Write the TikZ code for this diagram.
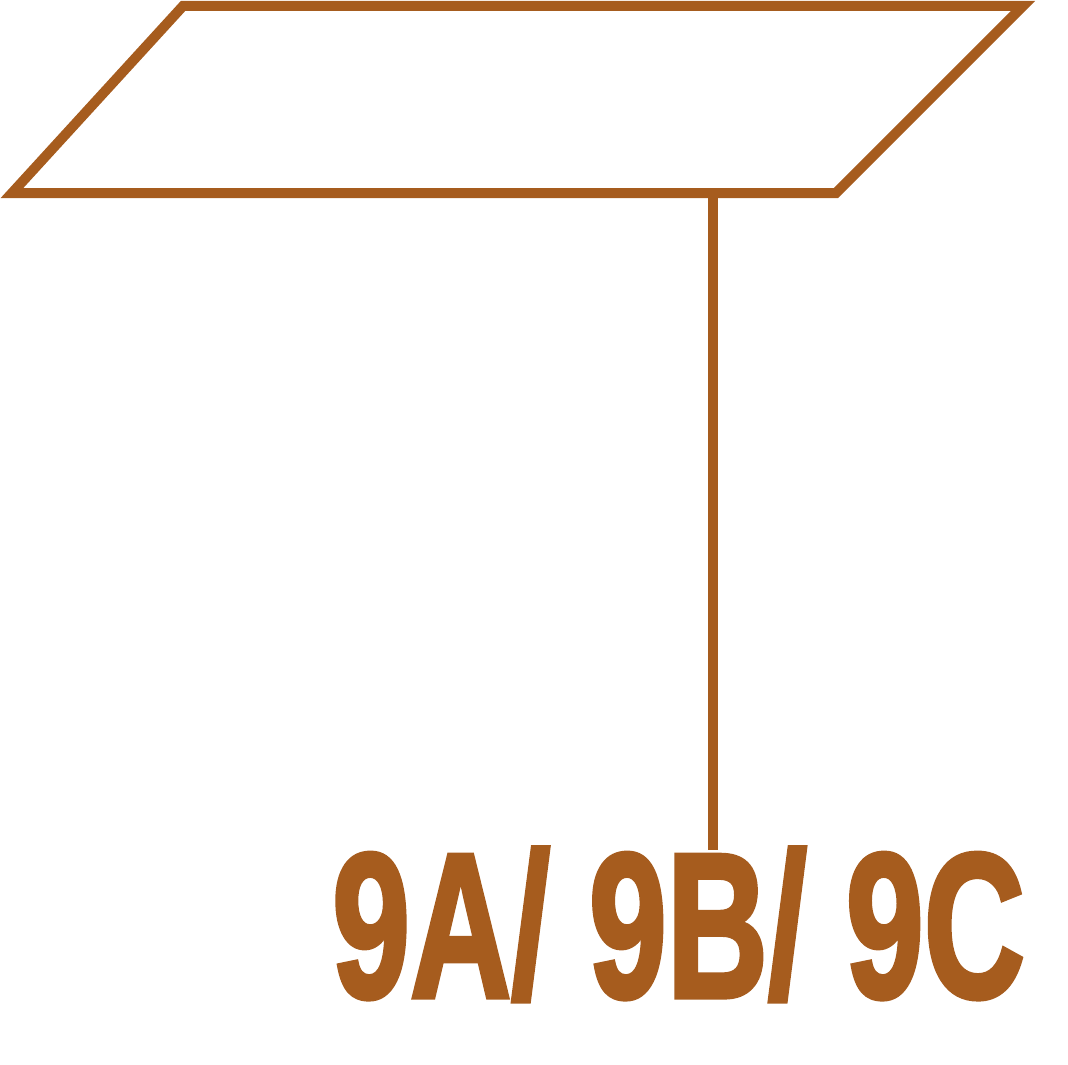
\documentclass[tikz,border=0pt]{standalone}
\usepackage{fontspec}
\setmainfont{Liberation Sans}
\newfontfamily\signfont[FakeBold=2.5]{Liberation Sans Bold}
\usetikzlibrary{positioning}

\definecolor{rust}{HTML}{A65C1E}

\begin{document}
\begin{tikzpicture}[
    x=1pt, y=-1pt,
    frame/.style={draw=rust, line width=10pt},
    stem/.style={draw=rust, line width=10pt},
    tag/.style={
        text=rust, inner sep=0pt, anchor=base west,
        font=\signfont\fontsize{206}{206}\selectfont
    },
]
\useasboundingbox (0,0) rectangle (1068,1065);

% Sign board
\coordinate (tl) at (183,6);
\coordinate (tr) at (1023,6);
\coordinate (br) at (836,193);
\coordinate (bl) at (12,193);
\draw [frame] (tl) -- (tr) -- (br) -- (bl) -- cycle;

% Label
\node (label) [tag] at (332,997) {\scalebox{0.68}[1]{9A/ 9B/ 9C}};

% Post
\coordinate (posttop) at (713,193);
\coordinate (postend) at (713,850);
\draw [stem] (posttop) -- (postend);

\end{tikzpicture}
\end{document}
